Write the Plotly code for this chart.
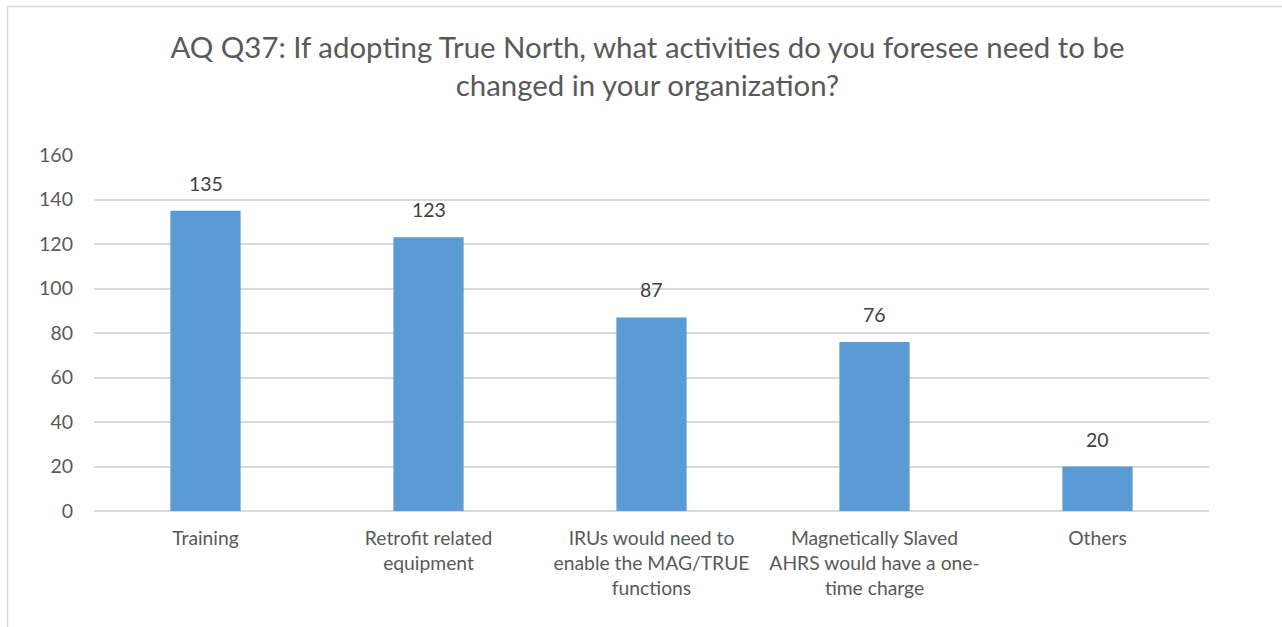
import plotly.graph_objects as go

categories = [
    "Training",
    "Retrofit related<br>equipment",
    "IRUs would need to<br>enable the MAG/TRUE<br>functions",
    "Magnetically Slaved<br>AHRS would have a one-<br>time charge",
    "Others",
]
responses = [135, 123, 87, 76, 20]
y_ticks = [0, 20, 40, 60, 80, 100, 120, 140, 160]

title_text = ("AQ Q37: If adopting True North, what activities do you foresee need to be<br>"
              "changed in your organization?")

FONT = "Lato, Open Sans, sans-serif"
TEXT_GREY = "#595959"
GRID = "#D9D9D9"

fig = go.Figure(
    go.Bar(
        x=categories,
        y=responses,
        marker=dict(color="#5B9BD5", line=dict(width=0)),
        width=0.315,
        hoverinfo="x+y",
    )
)

# value labels above each bar
for cat, val in zip(categories, responses):
    fig.add_annotation(
        x=cat, y=val, text=str(val), showarrow=False,
        yanchor="bottom", yshift=14,
        font=dict(family=FONT, size=19.5, color="#404040"),
    )

# plot area spans x 94..1209 px, y 155..511 px
L, R, T, B = 94, 73, 155, 116
W, H = 1282 - L - R, 627 - T - B

def px_to_paper_x(px):
    return (px - L) / W

def px_to_paper_y(py):
    return (627 - B - py) / H

fig.update_layout(
    width=1282,
    height=627,
    margin=dict(l=L, r=R, t=T, b=B),
    paper_bgcolor="white",
    plot_bgcolor="white",
    showlegend=False,
    title=dict(
        text=title_text,
        x=0.505,
        xanchor="center",
        y=1 - 58 / 627,
        yanchor="middle",
        font=dict(family=FONT, size=29.4, color=TEXT_GREY),
    ),
    font=dict(family=FONT, color=TEXT_GREY),
    xaxis=dict(
        showgrid=False,
        showline=False,
        ticks="",
        tickfont=dict(family=FONT, size=19.3, color=TEXT_GREY),
        ticklabelstandoff=14,
    ),
    yaxis=dict(
        range=[0, 160],
        tickvals=y_ticks,
        showgrid=True,
        gridcolor=GRID,
        gridwidth=1.5,
        zeroline=True,
        zerolinecolor=GRID,
        zerolinewidth=1.5,
        showline=False,
        ticks="",
        tickfont=dict(family=FONT, size=19.5, color=TEXT_GREY),
        ticklabelstandoff=20,
    ),
    shapes=[
        # chart frame edges (left and top)
        dict(type="line", xref="paper", yref="paper",
             x0=px_to_paper_x(7.5), x1=px_to_paper_x(7.5),
             y0=px_to_paper_y(640), y1=px_to_paper_y(6.5),
             line=dict(color=GRID, width=1.5)),
        dict(type="line", xref="paper", yref="paper",
             x0=px_to_paper_x(7.5), x1=px_to_paper_x(1290),
             y0=px_to_paper_y(6.5), y1=px_to_paper_y(6.5),
             line=dict(color=GRID, width=1.5)),
    ],
)

fig.write_html("out.html")
